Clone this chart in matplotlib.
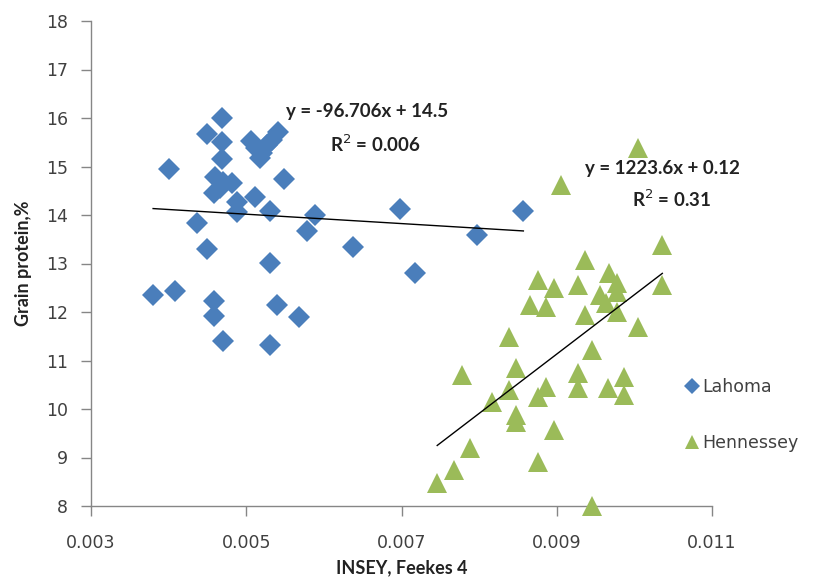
"""
Grain protein vs INSEY at Feekes 4, Lahoma and Hennessey, with linear trendlines.
Writes out.png
"""

import numpy as np
import matplotlib.pyplot as plt

# Lahoma (blue diamonds)
lahoma_x = [0.00380, 0.00408, 0.00459, 0.00459, 0.00470, 0.00450, 0.00437, 0.00400,
            0.00469, 0.00449, 0.00469, 0.00469, 0.00460, 0.00470, 0.00481, 0.00458,
            0.00466, 0.00488, 0.00488, 0.00511, 0.00518, 0.00548, 0.00530, 0.00588,
            0.00578, 0.00638, 0.00698, 0.00718, 0.00857, 0.00797, 0.00530, 0.00539,
            0.00568, 0.00530, 0.00506, 0.00512, 0.00520, 0.00527, 0.00533, 0.00541]
lahoma_y = [12.35, 12.44, 12.23, 11.92, 11.41, 13.29, 13.83, 14.95,
            15.99, 15.68, 15.51, 15.15, 14.79, 14.69, 14.65, 14.45,
            14.55, 14.27, 14.07, 14.38, 15.17, 14.74, 14.08, 14.01,
            13.68, 13.35, 14.12, 12.81, 14.08, 13.59, 13.02, 12.14,
            11.90, 11.32, 15.52, 15.38, 15.28, 15.45, 15.55, 15.72]

# Hennessey (green triangles)
henn_x = [0.01005, 0.00906, 0.01036, 0.00937, 0.01036, 0.00876, 0.00897, 0.00927,
          0.00967, 0.00977, 0.00956, 0.00866, 0.00886, 0.00977, 0.00964, 0.00937,
          0.00977, 0.01005, 0.00838, 0.00946, 0.00778, 0.00847, 0.00927, 0.00987,
          0.00886, 0.00876, 0.00927, 0.00966, 0.00987, 0.00838, 0.00816, 0.00847,
          0.00847, 0.00896, 0.00788, 0.00876, 0.00768, 0.00746, 0.00946]
henn_y = [15.38, 14.62, 13.38, 13.07, 12.56, 12.66, 12.49, 12.56,
          12.80, 12.59, 12.35, 12.14, 12.11, 12.42, 12.18, 11.94,
          12.00, 11.70, 11.49, 11.22, 10.70, 10.84, 10.74, 10.67,
          10.46, 10.24, 10.43, 10.43, 10.29, 10.39, 10.15, 9.88,
          9.74, 9.57, 9.19, 8.91, 8.74, 8.47, 8.00]

# trendline coefficients as printed on the chart
lahoma_fit = (-96.706, 14.5)
henn_fit = (1223.6, 0.12)

BLUE = "#4a7ebb"
GREEN = "#9bbb59"
AXIS = "#868686"
TXT = "#404040"

fig = plt.figure(figsize=(8.21, 5.86), dpi=100)
ax = fig.add_axes([91 / 821, 80 / 586, 621 / 821, 485 / 586])

ax.plot(lahoma_x, lahoma_y, "D", color=BLUE, markersize=11, markeredgewidth=0,
        linestyle="none", label="Lahoma", clip_on=False, zorder=3)
ax.plot(henn_x, henn_y, "^", color=GREEN, markersize=14, markeredgewidth=0,
        linestyle="none", label="Hennessey", clip_on=False, zorder=3)

# linear trendlines over each site's x range
for xs, (m, b) in [(lahoma_x, lahoma_fit), (henn_x, henn_fit)]:
    xx = np.array([min(xs), max(xs)])
    ax.plot(xx, m * xx + b, color="black", linewidth=1.0, zorder=4)

ax.set_xlim(0.003, 0.011)
ax.set_ylim(8, 18)
ax.set_xticks([0.003, 0.005, 0.007, 0.009, 0.011])
ax.set_xticklabels(["0.003", "0.005", "0.007", "0.009", "0.011"])
ax.set_yticks(range(8, 19))

for side in ["top", "right"]:
    ax.spines[side].set_visible(False)
for side in ["left", "bottom"]:
    ax.spines[side].set_color(AXIS)
    ax.spines[side].set_linewidth(1.0)
ax.tick_params(direction="out", length=7.5, width=1, color=AXIS,
               labelsize=12.5, labelcolor=TXT)
ax.tick_params(axis="x", pad=13)
ax.tick_params(axis="y", pad=9)

ax.set_xlabel("INSEY, Feekes 4", fontfamily="Lato", fontweight="bold",
              fontsize=13, color="#222222", labelpad=5)
ax.set_ylabel("Grain protein,%", fontfamily="Lato", fontweight="bold",
              fontsize=13, color="#222222", labelpad=10)

eq_kw = dict(transform=ax.transAxes, ha="center", va="center", fontfamily="Lato",
             fontweight="bold", fontsize=13.5, color="#222222")
ax.text(0.445, 0.814, "y = -96.706x + 14.5", **eq_kw)
ax.text(0.457, 0.746, "R$^2$ = 0.006", **eq_kw)
ax.text(0.920, 0.695, "y = 1223.6x + 0.12", **eq_kw)
ax.text(0.935, 0.633, "R$^2$ = 0.31", **eq_kw)

ax.legend(loc="upper left", bbox_to_anchor=(676 / 821, 1 - 369 / 586),
          bbox_transform=fig.transFigure, frameon=False, fontsize=12.5,
          markerscale=0.7, handlelength=0.9, handletextpad=0.1,
          labelspacing=2.2, borderpad=0, labelcolor=TXT)

fig.savefig("out.png", dpi=100)
